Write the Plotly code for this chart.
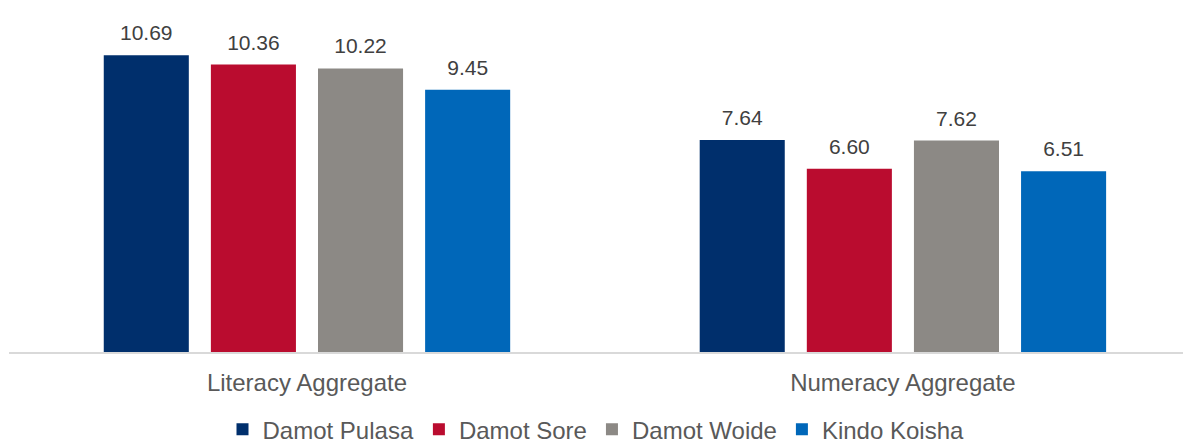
import plotly.graph_objects as go

categories = ["Literacy Aggregate", "Numeracy Aggregate"]
series_names = ["Damot Pulasa", "Damot Sore", "Damot Woide", "Kindo Koisha"]
damot_pulasa = [10.69, 7.64]
damot_sore = [10.36, 6.60]
damot_woide = [10.22, 7.62]
kindo_koisha = [9.45, 6.51]
colors = ["#002F6C", "#BA0C2F", "#8C8985", "#0067B9"]

values = [damot_pulasa, damot_sore, damot_woide, kindo_koisha]
FONT = "Liberation Sans, Arial, sans-serif"

fig = go.Figure()
for name, vals, col in zip(series_names, values, colors):
    fig.add_trace(go.Bar(
        x=categories, y=vals, name=name,
        marker=dict(color=col, line=dict(width=0)),
        hoverinfo="x+y+name",
    ))
for name, vals in zip(series_names, values):
    fig.add_trace(go.Scatter(
        x=categories, y=vals, name=name, showlegend=False,
        mode="markers+text",
        marker=dict(size=14, color="rgba(0,0,0,0)"),
        text=[f"{v:.2f}" for v in vals],
        textposition="top center",
        textfont=dict(size=21, color="#404040", family=FONT),
        cliponaxis=False, hoverinfo="skip",
    ))

fig.update_layout(
    width=1183, height=443,
    margin=dict(l=9, r=0, t=19, b=91, autoexpand=False),
    paper_bgcolor="white", plot_bgcolor="white",
    barmode="group", bargap=0.281, bargroupgap=0.206,
    scattermode="group", scattergap=0.281,
    font=dict(family=FONT, color="#595959", size=24),
    showlegend=True,
    legend=dict(orientation="h", x=0.5, xanchor="center",
                yref="container", y=0.03, yanchor="middle",
                font=dict(size=24, color="#595959"), itemwidth=30, tracegroupgap=0),
    xaxis=dict(range=[-0.5, 1.47], showline=True, linecolor="#D9D9D9", linewidth=2,
               ticks="outside", ticklen=8, tickcolor="rgba(0,0,0,0)",
               tickfont=dict(size=24, color="#595959"), showgrid=False, zeroline=False),
    yaxis=dict(range=[0, 12], visible=False, showgrid=False, zeroline=False),
)

fig.write_html("out.html", config={"displayModeBar": False},
               post_script="document.body.style.margin='0';")
